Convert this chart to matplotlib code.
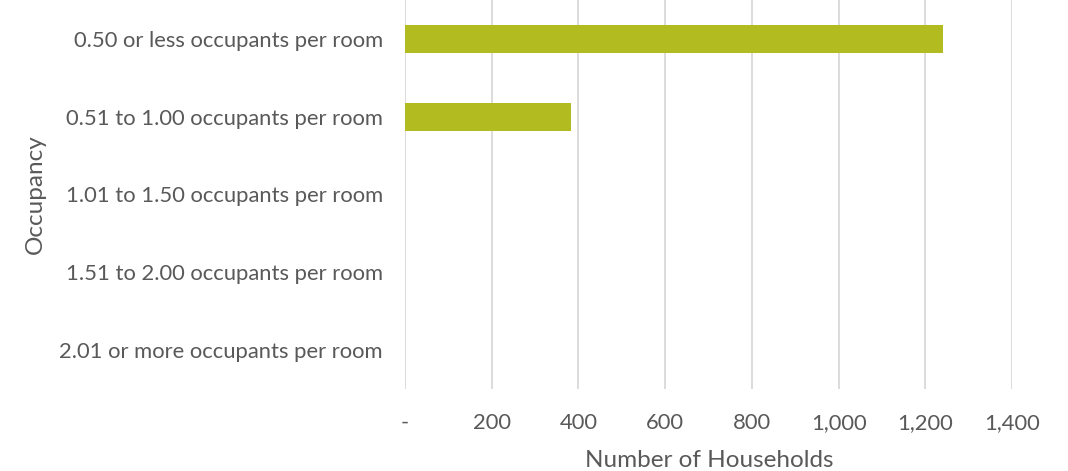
import matplotlib
matplotlib.use("Agg")
import matplotlib.pyplot as plt
from matplotlib.ticker import FuncFormatter

# ------------------------------------------------------------
# Data
# ------------------------------------------------------------
categories = [
    "0.50 or less occupants per room",
    "0.51 to 1.00 occupants per room",
    "1.01 to 1.50 occupants per room",
    "1.51 to 2.00 occupants per room",
    "2.01 or more occupants per room",
]
households = [1241, 383, 0, 0, 0]
x_ticks = [0, 200, 400, 600, 800, 1000, 1200, 1400]

# ------------------------------------------------------------
# Style
# ------------------------------------------------------------
plt.rcParams["font.family"] = ["Lato", "DejaVu Sans"]
text_color = "#595959"
grid_color = "#D9D9D9"
bar_color = "#B2BB1F"
fs = 15.8
title_fs = 17.5

W, H = 1068, 471
fig = plt.figure(figsize=(W / 100, H / 100), dpi=100)
ax = fig.add_axes([405 / W, 1 - 389 / H, 607 / W, 389 / H])

y_pos = list(range(len(categories)))
ax.barh(y_pos, households, height=0.36, color=bar_color, zorder=3)

ax.set_ylim(len(categories) - 0.5, -0.5)
ax.set_yticks(y_pos)
ax.set_yticklabels(categories)

ax.set_xlim(0, 1400)
ax.set_xticks(x_ticks)
ax.xaxis.set_major_formatter(FuncFormatter(lambda v, p: "-" if v == 0 else f"{v:,.0f}"))

ax.grid(axis="x", color=grid_color, linewidth=1.3, zorder=0)
ax.grid(axis="y", visible=False)
for side in ax.spines.values():
    side.set_visible(False)

ax.tick_params(axis="both", length=0, labelsize=fs, labelcolor=text_color)
ax.tick_params(axis="x", pad=17)
ax.tick_params(axis="y", pad=16)

# axis titles placed in figure pixels to match the original layout
fig.text(709 / W, 1 - 467 / H, "Number of Households", fontsize=title_fs,
         color=text_color, ha="center", va="baseline")
fig.text(35 / W, 1 - 194 / H, "Occupancy", fontsize=title_fs,
         color=text_color, ha="center", va="center", rotation=90)

fig.savefig("out.png", dpi=100)
